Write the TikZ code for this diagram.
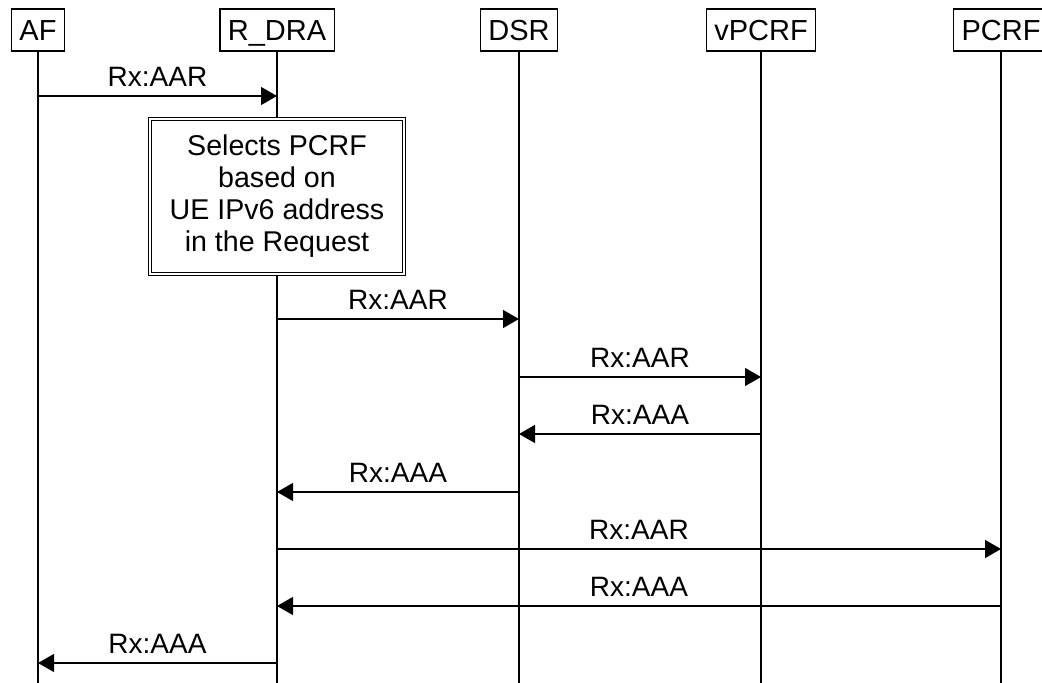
\documentclass[tikz,border=0pt]{standalone}
\usepackage{fontspec}
\setmainfont{Liberation Sans}
\usetikzlibrary{arrows.meta}

\tikzset{
	head/.style={draw, rectangle, font=\fontsize{14.5pt}{16pt}\selectfont, minimum height=21pt, text height=10.5pt, text depth=0pt, inner xsep=4pt, inner ysep=0pt},
	msg/.style={-{Triangle[length=8pt,width=9pt]}},
	lbl/.style={above, inner sep=4.5pt, text depth=0pt}
}

\begin{document}
\begin{tikzpicture}[font=\fontsize{14pt}{16pt}\selectfont, line width=0.65pt]
		\useasboundingbox (-19pt,15pt) rectangle (502pt,-326.5pt);
		
		\node[head](AF){AF};
		\node[head, right of=AF, node distance=119.5pt](RDRA){R\_DRA};
		\node[head, right of=RDRA, node distance=121pt](DSR){DSR};
		\node[head, right of=DSR, node distance=121pt](VPCRF){vPCRF};
		\node[head, right of=VPCRF, node distance=120pt](PCRF){PCRF};
		
		\coordinate[below of=AF, node distance=330pt](END);
		\draw (AF.south) -- (AF |- END);
		\draw (RDRA.south) -- (RDRA |- END);
		\draw (DSR.south) -- (DSR |- END);
		\draw (VPCRF.south) -- (VPCRF |- END);
		\draw (PCRF.south) -- (PCRF |- END);
		
		\node[draw, double, line width=0.5pt, double distance=1pt, fill=white, below of=RDRA, node distance=83.25pt, minimum width=127pt, minimum height=77.5pt, align=center, font=\fontsize{14.3pt}{16pt}\selectfont](SEL){Selects PCRF\\based on\\UE IPv6 address\\in the Request};
		
		% messages
		\coordinate[below of=AF, node distance=33pt](M1);
		\coordinate[below of=AF, node distance=144.5pt](M2);
		\coordinate[below of=AF, node distance=173.5pt](M3);
		\coordinate[below of=AF, node distance=202pt](M4);
		\coordinate[below of=AF, node distance=231pt](M5);
		\coordinate[below of=AF, node distance=259.5pt](M6);
		\coordinate[below of=AF, node distance=288pt](M7);
		\coordinate[below of=AF, node distance=316.5pt](M8);
		
		\draw[msg] (AF |- M1) -- node[lbl]{Rx:AAR} (RDRA |- M1);
		\draw[msg] (RDRA |- M2) -- node[lbl]{Rx:AAR} (DSR |- M2);
		\draw[msg] (DSR |- M3) -- node[lbl]{Rx:AAR} (VPCRF |- M3);
		\draw[msg] (VPCRF |- M4) -- node[lbl]{Rx:AAA} (DSR |- M4);
		\draw[msg] (DSR |- M5) -- node[lbl]{Rx:AAA} (RDRA |- M5);
		\draw[msg] (RDRA |- M6) -- node[lbl]{Rx:AAR} (PCRF |- M6);
		\draw[msg] (PCRF |- M7) -- node[lbl]{Rx:AAA} (RDRA |- M7);
		\draw[msg] (RDRA |- M8) -- node[lbl]{Rx:AAA} (AF |- M8);
\end{tikzpicture}
\end{document}
